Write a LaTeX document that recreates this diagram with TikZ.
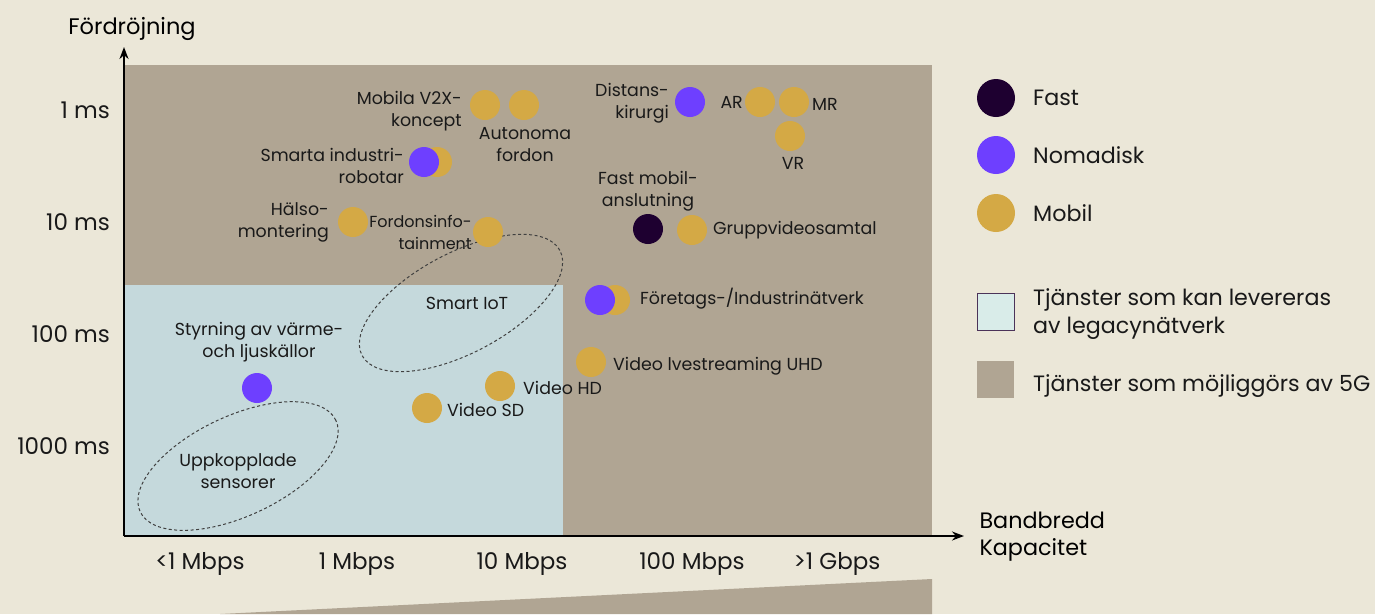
\documentclass[tikz,border=0pt]{standalone}
\usepackage{fontspec}
\setmainfont{Poppins}
\usetikzlibrary{positioning,arrows.meta}
\definecolor{bgcream}{HTML}{EBE7D8}
\definecolor{fivegcol}{HTML}{B0A593}
\definecolor{legacycol}{HTML}{C5D9DC}
\definecolor{legacybox}{HTML}{D9ECE9}
\definecolor{fastcol}{HTML}{1E0030}
\definecolor{nomcol}{HTML}{6E3FFF}
\definecolor{mobcol}{HTML}{D4A945}
\tikzset{
  dot/.style={circle, minimum size=30pt, inner sep=0pt},
  fastdot/.style={dot, fill=fastcol},
  nomdot/.style={dot, fill=nomcol},
  mobdot/.style={dot, fill=mobcol},
  legdot/.style={circle, minimum size=38pt, inner sep=0pt},
  lbl/.style={font=\fontsize{17.4}{22}\selectfont, inner sep=0pt, text=black!90},
  ticklbl/.style={font=\fontsize{23}{26}\selectfont, inner sep=0pt, text=black!90},
  leglbl/.style={font=\fontsize{22.2}{28}\selectfont, inner sep=0pt, text=black!90, anchor=west, align=left},
  zone/.style={draw=black!75, line width=1pt, dash pattern=on 3pt off 2.5pt},
  axis/.style={line width=1.8pt, -{Stealth[length=12pt, width=9pt]}}
}
\begin{document}
\begin{tikzpicture}[x=1pt, y=-1pt]
\useasboundingbox (0,0) rectangle (1375,614);
\fill[bgcream] (0,0) rectangle (1375,614);
\fill[fivegcol] (125,65) rectangle (932,536);
\fill[legacycol] (125,285) rectangle (563,536);
\fill[fivegcol] (220,614) -- (932,579) -- (932,614) -- cycle;

\coordinate (origo) at (124,536);
\coordinate (ytip) at (124,47);
\coordinate (xtip) at (964,536);
\draw[axis] (origo) -- (ytip);
\draw[axis] (origo) -- (xtip);
\node[font=\fontsize{22.5}{26}\selectfont] (ylabel) at (132,29) {Fördröjning};
\node[font=\fontsize{22.3}{27}\selectfont, anchor=west, align=left] (xlabel) at (976,537) {Bandbredd\\Kapacitet};

\node[ticklbl, anchor=east] (t1) at (110,110) {1 ms};
\node[ticklbl, anchor=east] (t10) at (110,222) {10 ms};
\node[ticklbl, anchor=east] (t100) at (110,334) {100 ms};
\node[ticklbl, anchor=east] (t1000) at (110,446) {1000 ms};
\node[ticklbl] (b1) at (200,564) {<1 Mbps};
\node[ticklbl] (b2) at (357,564) {1 Mbps};
\node[ticklbl] (b3) at (522,564) {10 Mbps};
\node[ticklbl] (b4) at (692,564) {100 Mbps};
\node[ticklbl] (b5) at (837,564) {>1 Gbps};

\coordinate (iot) at (461,303);
\coordinate (sens) at (238,466);
\draw[zone, rotate around={28:(iot)}] (iot) ellipse [x radius=112pt, y radius=50pt];
\draw[zone, rotate around={25:(sens)}] (sens) ellipse [x radius=108pt, y radius=50pt];
\node[lbl] (iottxt) at (467,303) {Smart IoT};
\node[lbl, align=center] (senstxt) at (238,471) {Uppkopplade\\sensorer};

\node[mobdot] (v2x) at (485,105) {};
\node[mobdot] (auto) at (524,105) {};
\node[lbl, align=right, anchor=east] (v2xtxt) at (462,111) {Mobila V2X-\\koncept};
\node[lbl, align=center] (autotxt) at (525,145) {Autonoma\\fordon};
\node[mobdot] (robmob) at (437,162) {};
\node[nomdot] (robnom) at (424,162) {};
\node[lbl, align=right, anchor=east] (robtxt) at (404,166) {Smarta industri-\\robotar};
\node[mobdot] (halsa) at (353,222) {};
\node[lbl, align=right, anchor=east] (halsatxt) at (329,222) {Hälso-\\montering};
\node[mobdot] (info) at (488,232) {};
\node[lbl, font=\fontsize{16}{22}\selectfont, align=right, anchor=east] (infotxt) at (472,232) {Fordonsinfo-\\tainment};

\node[nomdot] (kir) at (690,102) {};
\node[lbl, align=right, anchor=east] (kirtxt) at (669,103) {Distans-\\kirurgi};
\node[mobdot] (ar) at (760,102) {};
\node[lbl, anchor=east] (artxt) at (743,102) {AR};
\node[mobdot] (mr) at (794,102) {};
\node[lbl, anchor=west] (mrtxt) at (812,104) {MR};
\node[mobdot] (vr) at (790,136) {};
\node[lbl] (vrtxt) at (793,163) {VR};
\node[lbl, align=center] (fasttxt) at (648,191) {Fast mobil-\\anslutning};
\node[fastdot] (fast) at (648,229) {};
\node[mobdot] (grupp) at (692,230) {};
\node[lbl, anchor=west] (gruppttxt) at (713,230) {Gruppvideosamtal};
\node[mobdot] (ftgmob) at (615,300) {};
\node[nomdot] (ftgnom) at (600,300) {};
\node[lbl, anchor=west] (ftgtxt) at (640,299) {Företags-/Industrinätverk};
\node[mobdot] (uhd) at (591,362) {};
\node[lbl, anchor=west] (uhdtxt) at (613,366) {Video lvestreaming UHD};
\node[mobdot] (hd) at (500,386) {};
\node[lbl, anchor=west] (hdtxt) at (523,388) {Video HD};
\node[mobdot] (sd) at (427,408) {};
\node[lbl, anchor=west] (sdtxt) at (447,410) {Video SD};
\node[lbl, align=center] (styrtxt) at (259,342) {Styrning av värme-\\och ljuskällor};
\node[nomdot] (styr) at (257,388) {};

\node[legdot, fill=fastcol] (legfast) at (996,98) {};
\node[leglbl] (legfasttxt) at (1033,98) {Fast};
\node[legdot, fill=nomcol] (legnom) at (996,155) {};
\node[leglbl] (legnomtxt) at (1033,155) {Nomadisk};
\node[legdot, fill=mobcol] (legmob) at (996,213) {};
\node[leglbl] (legmobtxt) at (1033,213) {Mobil};
\node[draw=fastcol!80, line width=0.8pt, fill=legacybox, minimum size=37pt, inner sep=0pt] (legold) at (995.5,311.5) {};
\node[leglbl] (legoldtxt) at (1033,314) {Tjänster som kan levereras\\av legacynätverk};
\node[fill=fivegcol, minimum size=37pt, inner sep=0pt] (legnew) at (995.5,379.5) {};
\node[leglbl] (legnewtxt) at (1033,386) {Tjänster som möjliggörs av 5G};
\end{tikzpicture}
\end{document}
